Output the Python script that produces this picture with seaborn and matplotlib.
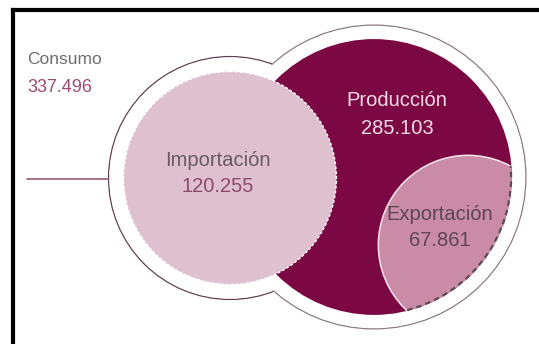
import numpy as np
import matplotlib
matplotlib.use("Agg")
import matplotlib.pyplot as plt
from matplotlib.patches import Circle
import seaborn as sns

# Balance figures (thousand tonnes)
labels = ["Consumo", "Producción", "Importación", "Exportación"]
values = [337.496, 285.103, 120.255, 67.861]
value_text = ["337.496", "285.103", "120.255", "67.861"]

sns.set_theme(style="white")
plt.rcParams["font.family"] = ["Liberation Sans", "DejaVu Sans"]

W, H = 539, 344
fig = plt.figure(figsize=(W / 100, H / 100), dpi=100)
ax = fig.add_axes([0, 0, 1, 1])
ax.set_xlim(0, W)
ax.set_ylim(H, 0)
ax.set_aspect("equal")
ax.axis("off")

# circle radius grows with the value (power scale)
def radius(v, k=25.3, p=0.3):
    return k * v ** p

r_prod = radius(values[1])
r_imp = radius(values[2])
r_exp = radius(values[3])
ring = 15

c_prod = (374, 177)
c_imp = (230, 178)
c_exp = (468, 245)

col_prod = "#7b0842"
col_imp = "#dec0ce"
col_exp = "#c98ba6"

# outer white ring (consumption outline)
ax.add_patch(Circle(c_imp, r_imp + ring, facecolor="white", edgecolor="#5e3f50", lw=0.9, zorder=1))
ax.add_patch(Circle(c_prod, r_prod + ring - 1, facecolor="white", edgecolor="#8c7a85", lw=0.9, zorder=1))
ax.add_patch(Circle(c_imp, r_imp + ring - 1.0, facecolor="white", edgecolor="none", zorder=2))
ax.add_patch(Circle(c_prod, r_prod + ring - 2.0, facecolor="white", edgecolor="none", zorder=2))

# production
prod = Circle(c_prod, r_prod, facecolor=col_prod, edgecolor="none", zorder=3)
ax.add_patch(prod)

# exportation, kept inside production
exp_fill = Circle(c_exp, r_exp, facecolor=col_exp, edgecolor="none", zorder=4)
ax.add_patch(exp_fill)
exp_fill.set_clip_path(prod)
exp_edge = Circle(c_exp, r_exp, facecolor="none", edgecolor="#f4e6ec", lw=1.1, zorder=5)
ax.add_patch(exp_edge)
exp_edge.set_clip_path(prod)
dash = Circle(c_prod, r_prod - 0.8, facecolor="none", edgecolor="#5f4a58",
              lw=1.6, linestyle=(0, (2.5, 1.8)), zorder=5)
ax.add_patch(dash)
dash.set_clip_path(Circle(c_exp, r_exp, transform=ax.transData))

# importation
ax.add_patch(Circle(c_imp, r_imp, facecolor=col_imp, edgecolor="none", zorder=6))
ax.add_patch(Circle(c_imp, r_imp, facecolor="none", edgecolor="white",
                    lw=1.0, linestyle=(0, (2, 1.5)), zorder=7))

# connector line to the consumption label
line_x = [27, c_imp[0] - r_imp - ring]
line_y = [179, 179]
sns.lineplot(x=line_x, y=line_y, ax=ax, color="#9a5a7c", lw=1.2, sort=False, zorder=1)

fs = 14.5
ax.text(27, 60, labels[0], fontsize=12.5, color="#6f6f6f", ha="left", va="center", zorder=8)
ax.text(27, 87, value_text[0], fontsize=13, color="#9b4b72", ha="left", va="center", zorder=8)
ax.text(397, 101, labels[1], fontsize=fs, color="#f3dbe7", ha="center", va="center", zorder=8)
ax.text(397, 128, value_text[1], fontsize=fs, color="#f3dbe7", ha="center", va="center", zorder=8)
ax.text(218, 160, labels[2], fontsize=fs, color="#6b5a63", ha="center", va="center", zorder=8)
ax.text(218, 187, value_text[2], fontsize=fs, color="#8e4a6e", ha="center", va="center", zorder=8)
ax.text(440, 215, labels[3], fontsize=fs, color="#5c4652", ha="center", va="center", zorder=8)
ax.text(440, 241, value_text[3], fontsize=fs, color="#5c4652", ha="center", va="center", zorder=8)

# frame
ax.plot([13, 13], [10, H + 5], color="black", lw=3, solid_capstyle="projecting", clip_on=False, zorder=9)
ax.plot([13, W + 5], [10, 10], color="black", lw=3, solid_capstyle="projecting", clip_on=False, zorder=9)

fig.savefig("out.png", dpi=100)
